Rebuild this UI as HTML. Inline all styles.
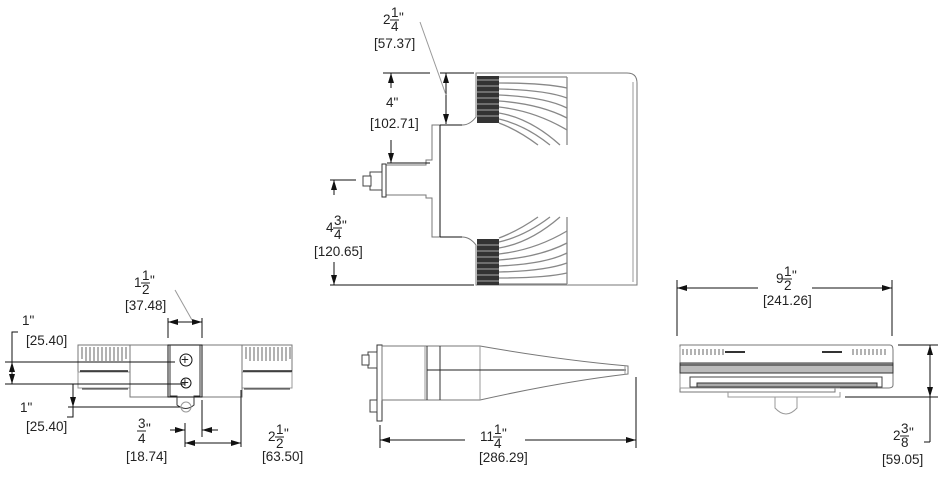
<!DOCTYPE html>
<html><head><meta charset="utf-8"><style>
html,body{margin:0;padding:0;background:#fff;}
svg{display:block;}
text{font-family:"Liberation Sans",sans-serif;font-size:13.5px;fill:#222;}
.t{stroke:#111;stroke-width:1;fill:none;}
.g{stroke:#999;stroke-width:1;fill:none;}
.f{stroke:#777;stroke-width:1;fill:#fff;}
</style></head><body>
<svg width="940" height="482" viewBox="0 0 940 482">
<defs>
<marker id="a" viewBox="0 0 10 6" refX="10" refY="3" markerWidth="10" markerHeight="6" orient="auto-start-reverse"><path d="M0,0 L10,3 L0,6 z" fill="#111"/></marker>
</defs>

<!-- ===== TOP VIEW ===== -->
<path class="f" d="M476,73 H627 Q637,73 637,83 V285 H476 V245 Q470,237 462,237 H432 V198 H426 V195 H385 V165 H426 V160 H432 V125 H462 Q470,125 476,117 Z"/>
<line class="g" x1="633" y1="82" x2="633" y2="282"/>
<line class="t" x1="440" y1="125" x2="440" y2="237"/>
<line class="t" x1="440" y1="125" x2="462" y2="125"/>
<line class="t" x1="440" y1="237" x2="462" y2="237"/>
<rect x="382" y="164" width="4" height="33" fill="#fff" stroke="#333"/>
<rect x="370" y="172" width="12" height="18" fill="#fff" stroke="#444"/>
<rect x="363" y="176" width="8" height="10" fill="#fff" stroke="#444"/>
<!-- fins -->
<rect x="477" y="76" width="22" height="47" fill="#333"/>
<rect x="477" y="239" width="22" height="46" fill="#333"/>
<g stroke="#aaa" stroke-width="1">
<line x1="477" y1="80" x2="499" y2="80"/><line x1="477" y1="86" x2="499" y2="86"/><line x1="477" y1="92" x2="499" y2="92"/><line x1="477" y1="98" x2="499" y2="98"/><line x1="477" y1="104" x2="499" y2="104"/><line x1="477" y1="110" x2="499" y2="110"/><line x1="477" y1="116" x2="499" y2="116"/>
<line x1="477" y1="245" x2="499" y2="245"/><line x1="477" y1="251" x2="499" y2="251"/><line x1="477" y1="257" x2="499" y2="257"/><line x1="477" y1="263" x2="499" y2="263"/><line x1="477" y1="269" x2="499" y2="269"/><line x1="477" y1="275" x2="499" y2="275"/><line x1="477" y1="281" x2="499" y2="281"/>
</g>
<g stroke="#888" stroke-width="1.3" fill="none">
<path d="M499,77 H567"/><path d="M499,83 Q545,83 567,88"/><path d="M499,89 Q545,90 567,98"/><path d="M499,95 Q545,97 567,108"/><path d="M499,101 Q540,104 567,118"/><path d="M499,107 Q535,111 567,130"/><path d="M499,113 Q530,118 560,145"/><path d="M499,119 Q525,125 550,145"/><path d="M499,123 Q518,130 538,145"/>
<line x1="567" y1="77" x2="567" y2="145"/>
<path d="M499,284 H567"/><path d="M499,278 Q545,278 567,273"/><path d="M499,272 Q545,271 567,263"/><path d="M499,266 Q545,264 567,253"/><path d="M499,260 Q540,257 567,243"/><path d="M499,254 Q535,250 567,231"/><path d="M499,248 Q530,243 560,217"/><path d="M499,242 Q525,236 550,217"/><path d="M499,238 Q518,231 538,217"/>
<line x1="567" y1="217" x2="567" y2="284"/>
</g>
<!-- top dims -->
<line class="t" x1="383" y1="73" x2="430" y2="73"/>
<line class="t" x1="440" y1="73" x2="474" y2="73"/>
<line class="t" x1="391" y1="88" x2="391" y2="73" marker-end="url(#a)"/>
<line class="t" x1="391" y1="140" x2="391" y2="163" marker-end="url(#a)"/>
<line class="t" x1="387" y1="163" x2="430" y2="163"/>
<line class="t" x1="446" y1="73" x2="446" y2="124" marker-start="url(#a)" marker-end="url(#a)"/>
<line class="g" x1="420" y1="22" x2="446" y2="95"/>
<text x="383" y="24">2</text><text x="391" y="17" font-size="12">1</text><line x1="390" y1="20" x2="399" y2="20" stroke="#222"/><text x="391" y="31" font-size="12">4</text><text x="399" y="22" font-size="9">"</text>
<text x="374" y="48">[57.37]</text>
<text x="386" y="107">4"</text>
<text x="370" y="128">[102.71]</text>
<line class="t" x1="330" y1="180" x2="356" y2="180"/>
<line class="t" x1="330" y1="285" x2="474" y2="285"/>
<line class="t" x1="334" y1="195" x2="334" y2="180" marker-end="url(#a)"/>
<line class="t" x1="334" y1="262" x2="334" y2="285" marker-end="url(#a)"/>
<text x="326" y="232">4</text><text x="334" y="225" font-size="12">3</text><line x1="333" y1="228" x2="342" y2="228" stroke="#222"/><text x="334" y="239" font-size="12">4</text><text x="342" y="230" font-size="9">"</text>
<text x="314" y="256">[120.65]</text>

<!-- ===== LEFT VIEW ===== -->
<g>
<rect class="f" x="78" y="345" width="52" height="27"/>
<rect class="f" x="242" y="345" width="50" height="27"/>
<rect class="g" x="78" y="372" width="52" height="16"/>
<rect class="g" x="242" y="372" width="50" height="16"/>
<line x1="80" y1="371" x2="128" y2="371" stroke="#222" stroke-width="1.5"/>
<line x1="243" y1="371" x2="292" y2="371" stroke="#222" stroke-width="1.5"/>
<line x1="82" y1="389" x2="128" y2="389" stroke="#333"/>
<line x1="244" y1="389" x2="290" y2="389" stroke="#333"/>
<path stroke="#666" fill="none" d="M82,347 v12 M86,347 v14 M90,347 v14 M94,347 v14 M98,347 v14 M102,347 v14 M106,347 v14 M110,347 v14 M114,347 v14 M118,347 v14 M122,347 v14 M126,347 v12"/>
<path stroke="#666" fill="none" d="M246,347 v12 M250,347 v14 M254,347 v14 M258,347 v14 M262,347 v14 M266,347 v14 M270,347 v14 M274,347 v14 M278,347 v14 M282,347 v14 M286,347 v14 M290,347 v12"/>
<rect class="f" x="130" y="345" width="112" height="52"/>
<rect class="t" x="168" y="345" width="34" height="52" stroke="#333"/>
<path d="M170,345 V396 H177 V405 Q186,412 194,405 V396 H200 V345" stroke="#333" fill="none"/>
<circle cx="186" cy="360" r="6" class="t" stroke="#444"/><text x="181" y="364" font-size="10">+</text>
<circle cx="186" cy="383" r="5" class="t" stroke="#444"/><text x="181" y="387" font-size="10">+</text>
<circle cx="186" cy="407" r="5" class="g"/>
</g>
<!-- left dims -->
<line class="t" x1="168" y1="318" x2="168" y2="338"/>
<line class="t" x1="202" y1="318" x2="202" y2="338"/>
<line class="t" x1="168" y1="322" x2="202" y2="322" marker-start="url(#a)" marker-end="url(#a)"/>
<line class="g" x1="175" y1="290" x2="192" y2="320"/>
<text x="134" y="287">1</text><text x="142" y="280" font-size="12">1</text><line x1="141" y1="283" x2="150" y2="283" stroke="#222"/><text x="142" y="294" font-size="12">2</text><text x="150" y="285" font-size="9">"</text>
<text x="125" y="310">[37.48]</text>
<line class="t" x1="5" y1="362" x2="175" y2="362"/>
<line class="t" x1="5" y1="384" x2="185" y2="384"/>
<line class="t" x1="12" y1="362" x2="12" y2="384" marker-start="url(#a)" marker-end="url(#a)"/>
<path class="t" d="M12,362 V332 H18"/>
<text x="22" y="325">1"</text><text x="26" y="345">[25.40]</text>
<line class="t" x1="68" y1="407" x2="180" y2="407"/>
<line class="t" x1="73" y1="390" x2="73" y2="407" marker-end="url(#a)"/>
<path class="t" d="M73,384 V417 H67"/>
<text x="20" y="412">1"</text><text x="26" y="431">[25.40]</text>
<line class="t" x1="185" y1="423" x2="185" y2="447"/>
<line class="t" x1="202" y1="400" x2="202" y2="437"/>
<line class="t" x1="170" y1="430" x2="185" y2="430" marker-end="url(#a)"/>
<line class="t" x1="218" y1="430" x2="202" y2="430" marker-end="url(#a)"/>
<line class="t" x1="241" y1="390" x2="241" y2="447"/>
<line class="t" x1="185" y1="443" x2="241" y2="443" marker-start="url(#a)" marker-end="url(#a)"/>
<text x="138" y="428" font-size="12">3</text><line x1="137" y1="431" x2="146" y2="431" stroke="#222"/><text x="138" y="443" font-size="12">4</text><text x="146" y="433" font-size="9">"</text>
<text x="126" y="461">[18.74]</text>
<text x="268" y="441">2</text><text x="276" y="434" font-size="12">1</text><line x1="275" y1="437" x2="284" y2="437" stroke="#222"/><text x="276" y="448" font-size="12">2</text><text x="284" y="438" font-size="9">"</text>
<text x="262" y="461">[63.50]</text>

<!-- ===== SIDE VIEW ===== -->
<rect x="377" y="345" width="5" height="76" fill="#fff" stroke="#333"/>
<rect x="368" y="352" width="9" height="16" fill="#fff" stroke="#444"/>
<rect x="362" y="355" width="7" height="10" fill="#fff" stroke="#444"/>
<rect x="370" y="400" width="7" height="12" fill="#fff" stroke="#444"/>
<path class="f" d="M382,346 H480 Q560,360 628,366 V374 Q560,382 480,400 H382 Z"/>
<line class="g" x1="425" y1="346" x2="425" y2="400"/>
<line x1="427" y1="346" x2="427" y2="400" stroke="#333"/>
<line x1="440" y1="346" x2="440" y2="400" stroke="#333"/>
<line class="g" x1="480" y1="346" x2="480" y2="400"/>
<line x1="427" y1="370" x2="626" y2="370" stroke="#222"/>
<line class="g" x1="625" y1="366" x2="625" y2="375"/>
<line class="t" x1="380" y1="425" x2="380" y2="448"/>
<line class="t" x1="636" y1="377" x2="636" y2="448"/>
<line class="t" x1="465" y1="440" x2="380" y2="440" marker-end="url(#a)"/>
<line class="t" x1="525" y1="440" x2="636" y2="440" marker-end="url(#a)"/>
<text x="480" y="441">11</text><text x="494" y="434" font-size="12">1</text><line x1="493" y1="437" x2="502" y2="437" stroke="#222"/><text x="494" y="448" font-size="12">4</text><text x="502" y="438" font-size="9">"</text>
<text x="479" y="462">[286.29]</text>

<!-- ===== FRONT VIEW ===== -->
<path class="f" d="M680,345 H890 Q893,345 893,350 V385 Q893,388 888,388 H835 V392 H680 Z"/>
<path class="g" d="M680,347 V388 H840"/>
<path stroke="#666" fill="none" d="M683,349 v6 M687,349 v6 M691,349 v6 M695,349 v6 M699,349 v6 M703,349 v6 M707,349 v6 M711,349 v6 M715,349 v6 M719,349 v6 M723,349 v6 M853,349 v6 M857,349 v6 M861,349 v6 M865,349 v6 M869,349 v6 M873,349 v6 M877,349 v6 M881,349 v6 M885,349 v6"/>
<path d="M725,352 H745 M822,352 H842" stroke="#333" stroke-width="2"/>
<rect x="680" y="363" width="213" height="10" fill="#bbb" stroke="#333"/>
<line x1="680" y1="365" x2="893" y2="365" stroke="#222"/>
<rect x="690" y="377" width="192" height="10" fill="#fff" stroke="#444"/>
<rect x="697" y="383" width="180" height="4" fill="#aaa" stroke="#333"/>
<path class="g" d="M728,392 V397 H840 V392"/>
<path class="g" d="M775,397 V408 Q786,420 797,408 V397"/>
<line class="t" x1="677" y1="280" x2="677" y2="336"/>
<line class="t" x1="892" y1="280" x2="892" y2="336"/>
<line class="t" x1="758" y1="288" x2="677" y2="288" marker-end="url(#a)"/>
<line class="t" x1="812" y1="288" x2="892" y2="288" marker-end="url(#a)"/>
<text x="776" y="283">9</text><text x="784" y="276" font-size="12">1</text><line x1="783" y1="279" x2="792" y2="279" stroke="#222"/><text x="784" y="290" font-size="12">2</text><text x="792" y="280" font-size="9">"</text>
<text x="763" y="305">[241.26]</text>
<line class="t" x1="898" y1="345" x2="938" y2="345"/>
<line class="t" x1="845" y1="397" x2="938" y2="397"/>
<line class="t" x1="930" y1="345" x2="930" y2="397" marker-start="url(#a)" marker-end="url(#a)"/>
<line class="t" x1="930" y1="397" x2="930" y2="442"/>
<line class="t" x1="924" y1="442" x2="930" y2="442"/>
<text x="893" y="440">2</text><text x="901" y="433" font-size="12">3</text><line x1="900" y1="436" x2="909" y2="436" stroke="#222"/><text x="901" y="447" font-size="12">8</text><text x="909" y="437" font-size="9">"</text>
<text x="882" y="464">[59.05]</text>
</svg>
</body></html>
